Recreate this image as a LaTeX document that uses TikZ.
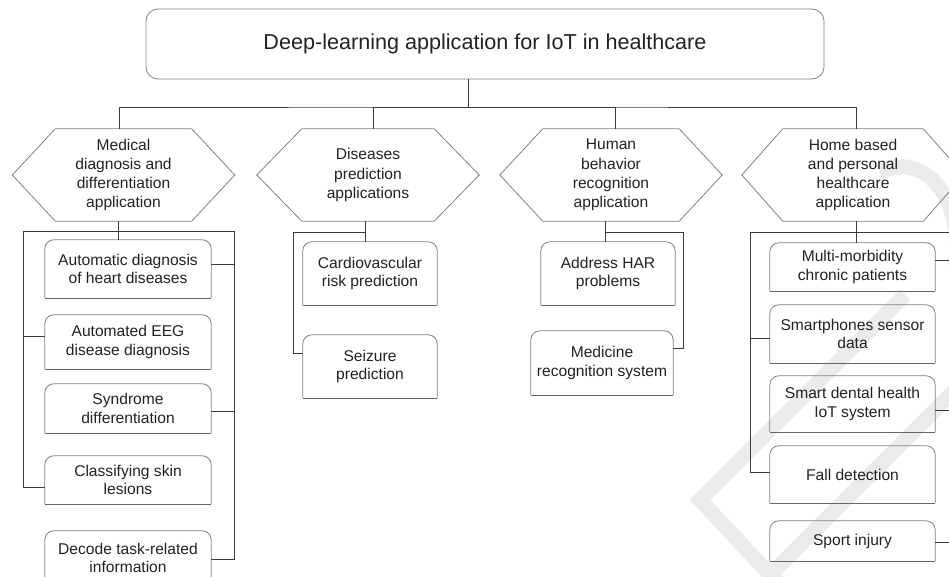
\documentclass[tikz,border=0pt]{standalone}
\usepackage{fontspec}
\setmainfont{Liberation Sans}
\newcommand{\boxfnt}{\fontsize{15.6}{18.3}\selectfont}
\newcommand{\hexfnt}{\fontsize{15.6}{19.3}\selectfont}
\definecolor{txt}{HTML}{222222}
\definecolor{cline}{HTML}{3A3A3A}
\definecolor{bline}{HTML}{808080}
\definecolor{bbot}{HTML}{666666}
\definecolor{wmc}{HTML}{EBEBEB}
\tikzset{
  conn/.style={draw=cline, line width=1pt},
  hexnode/.style={minimum width=222pt, minimum height=92pt, inner sep=0pt, align=center, font=\hexfnt, text=txt},
  hexline/.style={draw=bline, line width=0.8pt},
  boxnode/.style={inner sep=0pt, align=center, font=\boxfnt, text=txt},
  boxline/.style={draw=bline, line width=0.8pt},
  boxbottom/.style={draw=bbot, line width=1.2pt},
  wm/.style={draw=wmc, line width=15pt},
}
\newcommand{\tb}[6]{%
  \node[boxnode, minimum width=#4pt, minimum height=#5pt] (#1) at (#2,#3) {#6};
  \draw[boxline, rounded corners=9pt] (#1.south west) -- (#1.north west) -- (#1.north east) -- (#1.south east);
  \draw[boxbottom] (#1.south west) -- (#1.south east);}
\newcommand{\hx}[4]{%
  \node[hexnode] (#1) at (#2,175) {#3};
  \draw[hexline] (#1.west) -- ([xshift=#4pt]#1.north west) -- ([xshift=-#4pt]#1.north east) -- (#1.east) -- ([xshift=-#4pt]#1.south east) -- ([xshift=#4pt]#1.south west) -- cycle;}
\begin{document}
\begin{tikzpicture}[x=1pt,y=-1pt]
\useasboundingbox (0,0) rectangle (949,577);
\clip (0,0) rectangle (949,577);
% watermark
\draw[wm] (905,295) -- (700,500) -- (780,585);
\draw[wm] (955,390) -- (765,580);
\draw[wm] (880,172) .. controls (925,150) and (965,200) .. (955,265);
% title
\node[draw=bline, line width=0.8pt, rounded corners=12pt, minimum width=678pt, minimum height=70pt, inner sep=0pt, font=\fontsize{21.6}{25}\selectfont, text=txt] (title) at (485,44) {Deep-learning application for IoT in healthcare};
% hexagons
\hx{h1}{123.5}{Medical\\diagnosis and\\differentiation\\application}{43}
\hx{h2}{368}{Diseases\\prediction\\applications}{45}
\hx{h3}{611}{Human\\behavior\\recognition\\application}{43}
\hx{h4}{853}{Home based\\and personal\\healthcare\\application}{41}
% column 1 boxes
\tb{b11}{128}{269}{166}{58}{Automatic diagnosis\\of heart diseases}
\tb{b12}{128}{342}{166}{54}{Automated EEG\\disease diagnosis}
\tb{b13}{128}{408.5}{166}{49}{Syndrome\\differentiation}
\tb{b14}{128}{480}{166}{48}{Classifying skin\\lesions}
\tb{b15}{128}{558}{166}{54}{Decode task-related\\information}
% column 2
\tb{b21}{370}{273.5}{134}{63}{Cardiovascular\\risk prediction}
\tb{b22}{370}{366.5}{134}{63}{Seizure\\prediction}
% column 3
\tb{b31}{608}{273.5}{134}{63}{Address HAR\\problems}
\tb{b32}{602}{363}{142}{64}{Medicine\\recognition system}
% column 4
\tb{b41}{852.5}{267}{165}{48}{Multi-morbidity\\chronic patients}
\tb{b42}{852.5}{334}{165}{58}{Smartphones sensor\\data}
\tb{b43}{852.5}{404}{165}{56}{Smart dental health\\IoT system}
\tb{b44}{852.5}{474.5}{165}{57}{Fall detection}
\tb{b45}{852.5}{541}{165}{40}{Sport injury}
% top connectors
\coordinate (bus) at (468,108);
\draw[conn] ([xshift=-17pt]title.south) -- (bus);
\draw[conn] ([xshift=-4.5pt]h1.north) |- (bus) -| ([xshift=3pt]h4.north);
\draw[conn] ([xshift=5pt]h2.north) |- (bus);
\draw[conn] ([xshift=4pt]h3.north) |- (bus);
% column 1 connectors
\coordinate (c1L) at (23,231);
\coordinate (c1R) at (234,231);
\draw[conn] ([xshift=-5.5pt]h1.south) -- ([xshift=-10pt]b11.north);
\draw[conn] (c1L) -- (c1R);
\draw[conn] ([yshift=5pt]b11.east) -| (c1R);
\draw[conn] ([yshift=6pt]b12.west) -| (c1L);
\draw[conn] ([yshift=-2.5pt]b13.east) -| (c1R);
\draw[conn] ([yshift=-7pt]b14.west) -| (c1L);
\draw[conn] ([yshift=-1pt]b15.east) -| (c1R);
% column 2 connectors
\coordinate (c2) at (293,232);
\coordinate (j2) at (365,232);
\draw[conn] ([xshift=-3pt]h2.south) -- ([xshift=-5pt]b21.north);
\draw[conn] ([yshift=13.5pt]b22.west) -| (c2) -- (j2);
% column 3 connectors
\coordinate (c3) at (683,232);
\coordinate (j3) at (605,232);
\draw[conn] ([xshift=-6pt]h3.south) -- ([xshift=-3pt]b31.north);
\draw[conn] ([yshift=15pt]b32.east) -| (c3) -- (j3);
% column 4 connectors
\coordinate (c4L) at (750,232);
\coordinate (c4R) at (966,232);
\draw[conn] ([xshift=3pt]h4.south) -- ([xshift=3.5pt]b41.north);
\draw[conn] (c4L) -- (c4R);
\draw[conn] ([yshift=7pt]b41.east) -| (c4R);
\draw[conn] ([yshift=-4pt]b42.west) -| (c4L);
\draw[conn] ([yshift=-6pt]b43.east) -| (c4R);
\draw[conn] ([yshift=2.5pt]b44.west) -| (c4L);
\draw[conn] ([yshift=-1pt]b45.east) -| (c4R);
\end{tikzpicture}
\end{document}
